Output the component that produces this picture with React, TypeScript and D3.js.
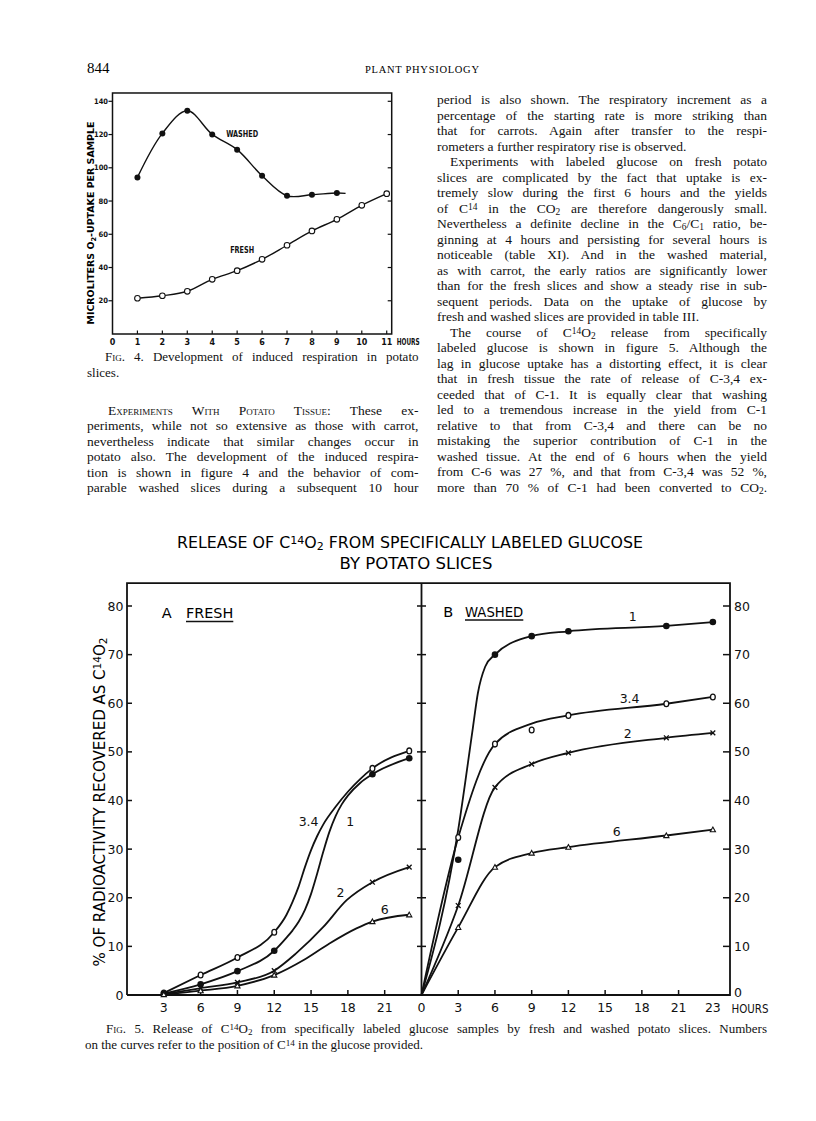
import { useLayoutEffect, useRef } from 'react';
import * as d3 from 'd3';

// ---------- Fig. 4 : induced respiration (microliters O2 per sample)
const F4_HOURS = [1, 2, 3, 4, 5, 6, 7, 8, 9, 10, 11];
const F4_WASHED = [94.2, 120.7, 134.3, 120.1, 110.9, 95.2, 83.2, 83.8, 84.8];
const F4_WASHED_TAIL: [number, number] = [9.35, 84.6];
const F4_FRESH = [21.5, 23.0, 25.7, 32.9, 38.1, 44.9, 53.4, 62.0, 69.0, 77.4, 84.4];
const F4_Y_TICKS = [20, 40, 60, 80, 100, 120, 140];
const F4_X_TICKS = [0, 1, 2, 3, 4, 5, 6, 7, 8, 9, 10, 11];

// ---------- Fig. 5 : % radioactivity recovered as C14O2
const F5_HOURS_A = [3, 6, 9, 12, 20, 23];
const F5_HOURS_B = [3, 6, 9, 12, 20, 23.8];

const FRESH_C1 = [0.3, 2.2, 4.9, 9.1, 45.4, 48.7];
const FRESH_C34 = [0.4, 4.1, 7.7, 12.9, 46.6, 50.2];
const FRESH_C2 = [0.2, 1.4, 2.6, 5.0, 23.2, 26.3];
const FRESH_C6 = [0.1, 0.9, 1.9, 4.1, 15.1, 16.5];

const WASHED_C1 = [27.8, 70.0, 73.8, 74.8, 75.9, 76.7];
const WASHED_C34 = [32.4, 51.6, 54.5, 57.5, 59.9, 61.3];
const WASHED_C2 = [18.4, 42.7, 47.5, 49.8, 52.9, 53.9];
const WASHED_C6 = [13.9, 26.3, 29.2, 30.4, 32.8, 34.0];

// hand-drawn curves (hour, %)
const FRESH_LINE_C1: [number, number][] = [[3, 0.3], [6, 2.2], [9, 4.9], [12, 9.1], [13, 11.8], [13.5, 13.3], [14, 15.1], [14.5, 17.5], [15, 20.8], [15.5, 25.0], [16, 29.5], [16.5, 33.6], [17, 36.8], [17.5, 39.2], [18, 41.0], [19, 43.6], [20, 45.4], [23, 48.7]];
const FRESH_LINE_C34: [number, number][] = [[3, 0.4], [6, 4.1], [9, 7.7], [12, 12.9], [13, 16.5], [13.5, 19.2], [14, 22.4], [14.5, 26.3], [15, 29.8], [15.5, 32.7], [16, 35.1], [17, 38.7], [18, 41.8], [19, 44.4], [20, 46.6], [23, 50.2]];
const FRESH_LINE_C2: [number, number][] = [[3, 0.2], [6, 1.4], [9, 2.6], [12, 5.0], [13.8, 8.6], [16, 14.0], [17.9, 19.5], [20, 23.2], [23, 26.3]];
const FRESH_LINE_C6: [number, number][] = [[3, 0.1], [6, 0.9], [9, 1.9], [12, 4.1], [14.4, 7.2], [16.5, 10.6], [18.7, 13.7], [20, 15.1], [23, 16.5]];

const WASHED_LINE_C1: [number, number][] = [[0, 0], [3, 34], [4.2, 55], [4.6, 62], [5.2, 67.5], [6, 70], [9, 73.8], [12, 74.8], [20, 75.9], [23.8, 76.7]];
const WASHED_LINE_C34: [number, number][] = [[0, 0], [3, 32.4], [6, 51.6], [9, 55.8], [12, 57.5], [20, 59.9], [23.8, 61.3]];
const WASHED_LINE_C2: [number, number][] = [[0, 0], [3, 18.4], [6, 42.7], [9, 47.5], [12, 49.8], [20, 52.9], [23.8, 53.9]];
const WASHED_LINE_C6: [number, number][] = [[0, 0], [3, 13.9], [6, 26.3], [9, 29.2], [12, 30.4], [20, 32.8], [23.8, 34.0]];

const F5_Y_TICKS = [0, 10, 20, 30, 40, 50, 60, 70, 80];
const F5_X_TICKS = [3, 6, 9, 12, 15, 18, 21];
const F5_B_LABEL_POS = [0, 3, 6, 9, 12, 15, 18, 21, 23.8];
const F5_B_LABELS = ['0', '3', '6', '9', '12', '15', '18', '21', '23'];

// curve labels: [label, hour, value]
const FRESH_TAGS: [string, number, number][] = [['3.4', 14.8, 35.6], ['1', 18.2, 35.6], ['2', 17.4, 21], ['6', 21, 17.6]];
const WASHED_TAGS: [string, number, number][] = [['1', 17.25, 77.9], ['3.4', 17, 60.9], ['2', 16.85, 53.7], ['6', 15.95, 33.7]];

// ---------- page text
const LEFT_PARA = [
  '~{Experiments With Potato Tissue:} These ex-',
  'periments, while not so extensive as those with carrot,',
  'nevertheless indicate that similar changes occur in',
  'potato also. The development of the induced respira-',
  'tion is shown in figure 4 and the behavior of com-',
  'parable washed slices during a subsequent 10 hour',
];
const RIGHT_COL = [
  'period is also shown. The respiratory increment as a',
  'percentage of the starting rate is more striking than',
  'that for carrots. Again after transfer to the respi-',
  'rometers a further respiratory rise is observed.',
  'Experiments with labeled glucose on fresh potato',
  'slices are complicated by the fact that uptake is ex-',
  'tremely slow during the first 6 hours and the yields',
  'of C^{14} in the CO_{2} are therefore dangerously small.',
  'Nevertheless a definite decline in the C_{6}/C_{1} ratio, be-',
  'ginning at 4 hours and persisting for several hours is',
  'noticeable (table XI). And in the washed material,',
  'as with carrot, the early ratios are significantly lower',
  'than for the fresh slices and show a steady rise in sub-',
  'sequent periods. Data on the uptake of glucose by',
  'fresh and washed slices are provided in table III.',
  'The course of C^{14}O_{2} release from specifically',
  'labeled glucose is shown in figure 5. Although the',
  'lag in glucose uptake has a distorting effect, it is clear',
  'that in fresh tissue the rate of release of C-3,4 ex-',
  'ceeded that of C-1. It is equally clear that washing',
  'led to a tremendous increase in the yield from C-1',
  'relative to that from C-3,4 and there can be no',
  'mistaking the superior contribution of C-1 in the',
  'washed tissue. At the end of 6 hours when the yield',
  'from C-6 was 27 %, and that from C-3,4 was 52 %,',
  'more than 70 % of C-1 had been converted to CO_{2}.',
];
const RIGHT_INDENT = [4, 15];
const RIGHT_RAGGED = [3, 14];

const SERIF = '"Liberation Serif", "Times New Roman", serif';
const SANS = '"DejaVu Sans", sans-serif';

function rich(s: string) {
  const parts = s.split(/(\^\{[^}]*\}|_\{[^}]*\}|~\{[^}]*\})/).filter(p => p !== '');
  return parts.map((p, i) => {
    if (p.startsWith('^{')) return <tspan key={i} baselineShift="35%" fontSize="70%">{p.slice(2, -1)}</tspan>;
    if (p.startsWith('_{')) return <tspan key={i} baselineShift="-22%" fontSize="70%">{p.slice(2, -1)}</tspan>;
    if (p.startsWith('~{')) return <tspan key={i} style={{ fontVariant: 'small-caps' }}>{p.slice(2, -1)}</tspan>;
    return <tspan key={i}>{p}</tspan>;
  });
}

function Line({ x, y, width, text, justify = true, size = 13.5 }:
  { x: number; y: number; width: number; text: string; justify?: boolean; size?: number }) {
  const ref = useRef<SVGTextElement>(null);
  useLayoutEffect(() => {
    const el = ref.current;
    if (!el || !justify) return;
    el.style.wordSpacing = '0px';
    const w = el.getComputedTextLength();
    const spaces = (el.textContent || '').split(' ').length - 1;
    if (spaces > 0) el.style.wordSpacing = `${(width - w) / spaces}px`;
  }, [x, y, width, text, justify]);
  return (
    <text ref={ref} x={x} y={y} fontSize={size} fontFamily={SERIF} fill="#111">{rich(text)}</text>
  );
}

function Marker({ kind, x, y }: { kind: string; x: number; y: number }) {
  if (kind === 'dot') return <circle cx={x} cy={y} r={3.3} fill="#111" />;
  if (kind === 'ring') return <ellipse cx={x} cy={y} rx={2.4} ry={2.9} fill="#fff" stroke="#111" strokeWidth={1.3} />;
  if (kind === 'cross') {
    const s = 2.4;
    return <path d={`M${x - s},${y - s}L${x + s},${y + s}M${x - s},${y + s}L${x + s},${y - s}`} stroke="#111" strokeWidth={1.3} fill="none" />;
  }
  const s = 2.6;
  return <path d={`M${x},${y - s}L${x + s},${y + s * 0.8}L${x - s},${y + s * 0.8}Z`} fill="#fff" stroke="#111" strokeWidth={1.1} />;
}

function Fig4() {
  const x = d3.scaleLinear().domain([0, 11.2]).range([112.5, 391.7]);
  const y = d3.scaleLinear().domain([0, 140]).range([334, 101.3]);
  const line = d3.line<[number, number]>().x(d => x(d[0])).y(d => y(d[1])).curve(d3.curveCatmullRom.alpha(0.5));
  const washed: [number, number][] = F4_WASHED.map((v, i) => [F4_HOURS[i], v] as [number, number]).concat([F4_WASHED_TAIL]);
  const fresh: [number, number][] = F4_FRESH.map((v, i) => [F4_HOURS[i], v]);
  const top = y(145);
  const lab = { fontSize: 7.5, fontWeight: 'bold', fontFamily: SANS, fill: '#111' };
  return (
    <g>
      <rect x={x(0)} y={top} width={x(11.2) - x(0)} height={y(0) - top} fill="none" stroke="#111" strokeWidth={1.5} />
      {F4_Y_TICKS.map(t => (
        <g key={t}>
          <line x1={x(0) - 4} x2={x(0)} y1={y(t)} y2={y(t)} stroke="#111" strokeWidth={1.2} />
          <line x1={x(11.2) - 4} x2={x(11.2)} y1={y(t)} y2={y(t)} stroke="#111" strokeWidth={1.2} />
          <text x={x(0) - 4.5} y={y(t)} dy="0.35em" textAnchor="end" {...lab}
            textLength={t >= 100 ? 14 : 9.5} lengthAdjust="spacingAndGlyphs">{t}</text>
        </g>
      ))}
      {F4_X_TICKS.map(t => (
        <g key={t}>
          {t > 0 && <line x1={x(t)} x2={x(t)} y1={y(0)} y2={y(0) - 3.5} stroke="#111" strokeWidth={1.2} />}
          <text x={x(t)} y={y(0) + 11} textAnchor="middle" {...lab} fontSize={8}>{t}</text>
        </g>
      ))}
      <text x={x(11) + 10} y={y(0) + 11} {...lab} fontSize={8} textLength={23} lengthAdjust="spacingAndGlyphs">HOURS</text>
      <text transform="translate(94,223) rotate(-90)" textAnchor="middle" fontSize={9.5} fontWeight="bold" fontFamily={SANS}
        textLength={203} lengthAdjust="spacingAndGlyphs">{rich('MICROLITERS O_{2}-UPTAKE PER SAMPLE')}</text>
      <path d={line(washed) || ''} fill="none" stroke="#111" strokeWidth={1.4} />
      <path d={line(fresh) || ''} fill="none" stroke="#111" strokeWidth={1.4} />
      {F4_WASHED.map((v, i) => <circle key={i} cx={x(F4_HOURS[i])} cy={y(v)} r={3} fill="#111" />)}
      {F4_FRESH.map((v, i) => <circle key={i} cx={x(F4_HOURS[i])} cy={y(v)} r={2.8} fill="#fff" stroke="#111" strokeWidth={1.1} />)}
      <text x={x(5.2)} y={y(120.6)} textAnchor="middle" dy="0.35em" {...lab} fontSize={8.5} textLength={32} lengthAdjust="spacingAndGlyphs">WASHED</text>
      <text x={x(5.2)} y={y(50.3)} textAnchor="middle" dy="0.35em" {...lab} fontSize={8.5} textLength={24} lengthAdjust="spacingAndGlyphs">FRESH</text>
    </g>
  );
}

function Fig5() {
  const y = d3.scaleLinear().domain([0, 80]).range([995, 606]);
  const xA = d3.scaleLinear().domain([0, 24]).range([127, 421.5]);
  const xB = d3.scaleLinear().domain([0, 25.2]).range([421.5, 730]);
  const top = y(84.7);
  const mk = (xs: d3.ScaleLinear<number, number>) =>
    d3.line<[number, number]>().x(d => xs(d[0])).y(d => y(d[1])).curve(d3.curveMonotoneX);
  const lineA = mk(xA);
  const lineB = mk(xB);
  const fresh = [
    { kind: 'ring', vals: FRESH_C34, path: FRESH_LINE_C34 },
    { kind: 'dot', vals: FRESH_C1, path: FRESH_LINE_C1 },
    { kind: 'cross', vals: FRESH_C2, path: FRESH_LINE_C2 },
    { kind: 'tri', vals: FRESH_C6, path: FRESH_LINE_C6 },
  ];
  const washed = [
    { kind: 'dot', vals: WASHED_C1, path: WASHED_LINE_C1 },
    { kind: 'ring', vals: WASHED_C34, path: WASHED_LINE_C34 },
    { kind: 'cross', vals: WASHED_C2, path: WASHED_LINE_C2 },
    { kind: 'tri', vals: WASHED_C6, path: WASHED_LINE_C6 },
  ];
  const sw = 1.8;
  const lab = { fontSize: 12.5, fontFamily: SANS, fill: '#111' };
  return (
    <g>
      <text x={410} y={547.7} textAnchor="middle" fontSize={15.5} fontFamily={SANS} textLength={466} lengthAdjust="spacingAndGlyphs">
        {rich('RELEASE OF C^{14}O_{2} FROM SPECIFICALLY LABELED GLUCOSE')}
      </text>
      <text x={416} y={569} textAnchor="middle" fontSize={15.5} fontFamily={SANS} textLength={153} lengthAdjust="spacingAndGlyphs">BY POTATO SLICES</text>

      {/* frame */}
      <path d={`M${xA(0)},${y(0)}V${top}H${xB(25.2)}V${y(0)}H${xA(0)}M${xB(0)},${top}V${y(0)}`} fill="none" stroke="#111" strokeWidth={sw} />
      {F5_Y_TICKS.filter(t => t > 0).map(t => (
        <g key={t}>
          <line x1={xA(0)} x2={xA(0) + 5} y1={y(t)} y2={y(t)} stroke="#111" strokeWidth={1.5} />
          <line x1={xB(0) - 4.5} x2={xB(0) + 4.5} y1={y(t)} y2={y(t)} stroke="#111" strokeWidth={1.5} />
          <line x1={xB(25.2) - 7} x2={xB(25.2)} y1={y(t)} y2={y(t)} stroke="#111" strokeWidth={1.5} />
        </g>
      ))}
      {F5_Y_TICKS.map(t => (
        <g key={t}>
          <text x={xA(0) - 3.5} y={y(t)} dy="0.36em" textAnchor="end" {...lab}>{t}</text>
          <text x={xB(25.2) + 4} y={t === 0 ? y(t) - 3 : y(t)} dy="0.36em" textAnchor="start" {...lab}>{t}</text>
        </g>
      ))}
      {F5_X_TICKS.map(t => (
        <g key={t}>
          <line x1={xA(t)} x2={xA(t)} y1={y(0)} y2={y(0) - 5} stroke="#111" strokeWidth={1.5} />
          <line x1={xB(t)} x2={xB(t)} y1={y(0)} y2={y(0) - 5} stroke="#111" strokeWidth={1.5} />
          <text x={xA(t)} y={1012} textAnchor="middle" {...lab}>{t}</text>
        </g>
      ))}
      {F5_B_LABEL_POS.map((t, i) => (
        <text key={i} x={xB(t)} y={1012} textAnchor="middle" {...lab}>{F5_B_LABELS[i]}</text>
      ))}
      <text x={731.5} y={1012.5} {...lab} textLength={37} lengthAdjust="spacingAndGlyphs">HOURS</text>

      <text transform="translate(104.5,802) rotate(-90)" textAnchor="middle" fontSize={16} fontFamily={SANS}
        textLength={329} lengthAdjust="spacingAndGlyphs">{rich('% OF RADIOACTIVITY RECOVERED AS C^{14}O_{2}')}</text>

      {/* panel titles */}
      <text x={161.7} y={618} fontSize={14.5} fontFamily={SANS}>A</text>
      <text x={186} y={618} fontSize={14.5} fontFamily={SANS} textLength={47.3} lengthAdjust="spacingAndGlyphs">FRESH</text>
      <line x1={186} x2={233.3} y1={621.5} y2={621.5} stroke="#111" strokeWidth={1.5} />
      <text x={443.3} y={617} fontSize={14.5} fontFamily={SANS}>B</text>
      <text x={465} y={617} fontSize={14.5} fontFamily={SANS} textLength={58.3} lengthAdjust="spacingAndGlyphs">WASHED</text>
      <line x1={465} x2={523.3} y1={620} y2={620} stroke="#111" strokeWidth={1.5} />

      {/* curves */}
      {fresh.map(s => <path key={'fa' + s.kind} d={lineA(s.path) || ''} fill="none" stroke="#111" strokeWidth={sw} />)}
      {washed.map(s => <path key={'wa' + s.kind} d={lineB(s.path) || ''} fill="none" stroke="#111" strokeWidth={sw} />)}
      {fresh.map(s => s.vals.map((v, i) => <Marker key={s.kind + i} kind={s.kind} x={xA(F5_HOURS_A[i])} y={y(v)} />))}
      {washed.map(s => s.vals.map((v, i) => <Marker key={'w' + s.kind + i} kind={s.kind} x={xB(F5_HOURS_B[i])} y={y(v)} />))}
      {FRESH_TAGS.map(([t, h, v]) => (
        <text key={'ft' + t} x={xA(h)} y={y(v)} dy="0.36em" textAnchor="middle" {...lab}>{t}</text>
      ))}
      {WASHED_TAGS.map(([t, h, v]) => (
        <text key={'wt' + t} x={xB(h)} y={y(v)} dy="0.36em" textAnchor="middle" {...lab}>{t}</text>
      ))}
    </g>
  );
}

export default function App() {
  const leftX = 87;
  const leftW = 331.5;
  const rightX = 437;
  const rightW = 330;
  return (
    <div style={{ position: 'absolute', left: 0, top: 0 }}>
      <svg width={816} height={1121} viewBox="0 0 816 1121" style={{ display: 'block', background: '#fff' }}>
        <rect width={816} height={1121} fill="#fff" />
        {/* running head */}
        <text x={87} y={73} fontSize={15} fontFamily={SERIF}>844</text>
        <text x={365} y={73} fontSize={10.5} fontFamily={SERIF} textLength={114} lengthAdjust="spacing">PLANT PHYSIOLOGY</text>

        <Fig4 />

        {/* Fig. 4 caption */}
        <Line x={105} y={361} width={313.5} size={13} text="F~{ig}. 4. Development of induced respiration in potato" />
        <Line x={leftX} y={377} width={leftW} size={13} justify={false} text="slices." />

        {LEFT_PARA.map((t, i) => (
          <Line key={i} x={i === 0 ? leftX + 21 : leftX} y={414.5 + i * 15.5} width={i === 0 ? leftW - 21 : leftW} text={t} />
        ))}
        {RIGHT_COL.map((t, i) => {
          const ind = RIGHT_INDENT.includes(i) ? 13 : 0;
          return (
            <Line key={i} x={rightX + ind} y={104 + i * 15.5} width={rightW - ind} text={t} justify={!RIGHT_RAGGED.includes(i)} />
          );
        })}

        <Fig5 />

        {/* Fig. 5 caption */}
        <Line x={106} y={1033} width={661} size={13}
          text="F~{ig}. 5. Release of C^{14}O_{2} from specifically labeled glucose samples by fresh and washed potato slices. Numbers" />
        <Line x={85} y={1049} width={400} size={13} justify={false}
          text="on the curves refer to the position of C^{14} in the glucose provided." />
      </svg>
    </div>
  );
}
